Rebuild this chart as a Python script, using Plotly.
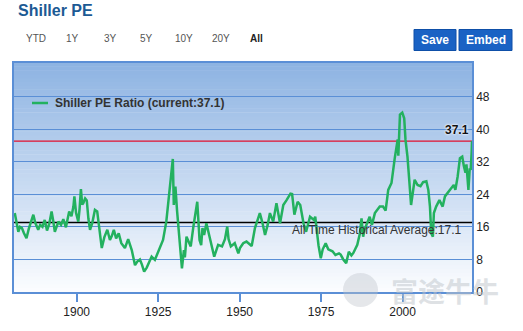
import plotly.graph_objects as go

# ---------------- data ----------------
years = [
    1881.0, 1881.5, 1882.1, 1882.6, 1883.2, 1883.8, 1884.6, 1885.3, 1886.0, 1886.7,
    1887.3, 1888.2, 1888.8, 1889.5, 1890.2, 1890.9, 1891.6, 1892.3, 1892.8, 1893.3,
    1894.4, 1895.2, 1895.9, 1896.7, 1897.7, 1898.4, 1899.0, 1899.3, 1899.8, 1900.5,
    1900.9, 1901.3, 1901.7, 1902.0, 1902.6, 1903.1, 1903.6, 1904.1, 1904.8, 1905.6,
    1906.3, 1906.8, 1907.7, 1908.5, 1909.4, 1910.2, 1910.8, 1911.4, 1912.1, 1912.9,
    1913.7, 1914.8, 1915.8, 1916.9, 1917.9, 1918.6, 1919.4, 1920.0, 1920.7, 1921.5,
    1922.3, 1923.0, 1924.0, 1924.8, 1925.5, 1926.5, 1927.5, 1928.5, 1929.0, 1929.5,
    1929.8, 1930.3, 1930.8, 1931.1, 1931.8, 1932.3, 1932.9, 1933.2, 1933.7, 1934.4,
    1935.0, 1935.8, 1936.5, 1937.0, 1937.7, 1938.2, 1938.6, 1939.1, 1939.8, 1940.8,
    1941.5, 1942.2, 1943.4, 1944.6, 1945.5, 1946.2, 1946.6, 1947.3, 1948.5, 1949.6,
    1950.1, 1951.1, 1952.1, 1953.7, 1954.7, 1955.5, 1956.2, 1957.0, 1957.8, 1958.6,
    1959.3, 1960.3, 1961.3, 1962.4, 1963.4, 1964.4, 1965.6, 1966.1, 1966.8, 1967.8,
    1968.6, 1969.6, 1970.4, 1971.6, 1972.8, 1973.2, 1974.2, 1974.9, 1975.5, 1976.4,
    1977.2, 1978.5, 1979.4, 1980.5, 1981.0, 1981.8, 1982.7, 1983.5, 1984.3, 1984.9,
    1986.1, 1986.9, 1987.4, 1987.9, 1988.3, 1989.9, 1990.6, 1991.5, 1993.0, 1994.0,
    1994.8, 1995.6, 1996.6, 1997.6, 1998.1, 1998.5, 1998.7, 1999.0, 1999.2, 1999.9,
    2000.5, 2000.9, 2001.5, 2002.0, 2002.6, 2003.7, 2004.6, 2005.5, 2006.3, 2007.3,
    2007.9, 2008.4, 2008.8, 2009.3, 2009.6, 2010.3, 2011.3, 2012.3, 2013.0, 2014.5,
    2015.7, 2016.2, 2016.9, 2017.6, 2018.3, 2018.8, 2019.3, 2019.6, 2020.2, 2020.6,
    2020.9, 2021.2, 2021.3,
]
pe = [
    19.4, 17.0, 14.8, 16.0, 15.7, 14.5, 13.2, 15.5, 17.5, 19.0,
    17.0, 15.3, 16.5, 16.0, 17.7, 15.1, 16.8, 19.8, 17.5, 14.8,
    17.3, 16.5, 17.9, 15.9, 19.8, 18.6, 21.0, 23.5, 19.5, 17.3,
    20.5, 25.3, 21.5, 21.8, 23.0, 22.5, 18.0, 15.3, 17.0, 20.2,
    19.8, 17.0, 10.8, 13.5, 15.3, 12.8, 13.8, 15.3, 13.2, 14.4,
    12.0, 10.8, 13.0, 10.3, 6.6, 7.5, 8.0, 6.8, 5.0, 6.0,
    7.5, 8.7, 7.9, 9.5, 11.2, 12.8, 17.3, 25.9, 28.4, 32.7,
    21.4, 25.9, 20.0, 16.9, 9.5, 5.8, 10.3, 8.5, 13.6, 12.4,
    11.2, 16.0, 20.2, 22.2, 12.8, 11.5, 15.7, 14.0, 16.9, 13.6,
    11.5, 8.7, 11.6, 11.2, 13.0, 16.1, 13.0, 11.2, 12.0, 9.5,
    10.8, 12.0, 12.4, 11.3, 15.7, 17.5, 19.4, 17.0, 14.0, 16.5,
    19.4, 17.3, 21.8, 16.9, 21.4, 22.6, 24.2, 24.1, 19.0, 22.2,
    21.4, 16.9, 14.8, 18.5, 17.7, 18.5, 11.5, 8.3, 10.5, 12.0,
    10.5, 10.0, 9.1, 9.5, 9.2, 8.0, 7.1, 9.9, 9.0, 9.6,
    11.6, 14.4, 18.1, 13.6, 15.3, 18.5, 16.5, 19.4, 21.0, 21.0,
    20.0, 25.1, 26.8, 32.9, 35.8, 37.5, 33.5, 40.0, 43.6, 44.1,
    42.7, 37.4, 33.3, 28.0, 21.4, 27.6, 26.3, 26.0, 27.0, 27.2,
    25.1, 21.0, 14.4, 13.6, 19.4, 21.0, 22.6, 21.0, 23.5, 25.1,
    26.3, 25.1, 28.4, 32.9, 33.3, 31.0, 29.3, 31.4, 25.1, 30.4,
    30.0, 34.5, 37.1,
]
current_pe = 37.1
average_pe = 17.1
x_tick_years = [1900, 1925, 1950, 1975, 2000]
y_tick_vals = [0, 8, 16, 24, 32, 40, 48]
range_buttons = ["YTD", "1Y", "3Y", "5Y", "10Y", "20Y", "All"]

# ---------------- layout helpers (pixel -> paper) ----------------
W, H = 523, 331
PL, PR, PT, PB = 14, 472, 63, 292


def px(x):
    return (x - PL) / (PR - PL)


def py(y):
    return (PB - y) / (PB - PT)


GREEN = "#23b15f"
GRID = "#5b8fd6"
FONT = "Liberation Sans, Arial, sans-serif"

fig = go.Figure()
fig.add_trace(go.Scatter(
    x=years, y=pe, mode="lines",
    line=dict(color=GREEN, width=2.5),
    name="Shiller PE Ratio", showlegend=False,
    hovertemplate="%{x:.1f}: %{y:.1f}<extra></extra>",
))

shapes = []
# gradient background of the plot area
n = 60
top = (141, 179, 226)
bot = (252, 253, 255)
for i in range(n):
    t0 = i / n
    t1 = (i + 1) / n
    f = (t0 + t1) / 2  # 0 bottom -> 1 top
    c = tuple(round(bot[k] + (top[k] - bot[k]) * f) for k in range(3))
    shapes.append(dict(type="rect", xref="paper", yref="paper",
                       x0=0, x1=1, y0=t0, y1=t1 + 0.002,
                       fillcolor="rgb(%d,%d,%d)" % c, line=dict(width=0),
                       layer="below"))
# current value line and historical average line
shapes.append(dict(type="line", xref="paper", yref="y", x0=0, x1=1,
                   y0=current_pe, y1=current_pe,
                   line=dict(color="#e0102f", width=1.2), layer="between"))
shapes.append(dict(type="line", xref="paper", yref="y", x0=0, x1=1,
                   y0=average_pe, y1=average_pe,
                   line=dict(color="#000000", width=1.5), layer="between"))
# legend sample line
shapes.append(dict(type="line", xref="paper", yref="paper",
                   x0=px(32), x1=px(48), y0=py(103), y1=py(103),
                   line=dict(color=GREEN, width=2.5)))
# save / embed buttons
for x0, x1 in [(414, 456), (459, 512)]:
    shapes.append(dict(type="rect", xref="paper", yref="paper",
                       x0=px(x0), x1=px(x1), y0=py(50.5), y1=py(29.5),
                       fillcolor="#1a62c4", line=dict(color="#0e4fa8", width=1)))

annotations = []
annotations.append(dict(text="<b>Shiller PE</b>", x=px(16), y=py(11),
                        xref="paper", yref="paper", xanchor="left", yanchor="middle",
                        showarrow=False, font=dict(family=FONT, size=16, color="#1c5a94")))
btn_x = [35.7, 72.7, 110, 146.7, 184.3, 221, 256.7]
for lab, bx in zip(range_buttons, btn_x):
    bold = lab == "All"
    annotations.append(dict(text=("<b>%s</b>" % lab) if bold else lab, x=px(bx), y=py(38.5),
                            xref="paper", yref="paper", xanchor="center", yanchor="middle",
                            showarrow=False,
                            font=dict(family=FONT, size=10, color="#222" if bold else "#555")))
for lab, cx in [("Save", 435), ("Embed", 485.5)]:
    annotations.append(dict(text="<b>%s</b>" % lab, x=px(cx), y=py(40),
                            xref="paper", yref="paper", xanchor="center", yanchor="middle",
                            showarrow=False, font=dict(family=FONT, size=12, color="white")))
annotations.append(dict(text="<b>Shiller PE Ratio (current:%s)</b>" % current_pe,
                        x=px(53), y=py(103), xref="paper", yref="paper",
                        xanchor="left", yanchor="middle", showarrow=False,
                        font=dict(family=FONT, size=12, color="#333")))
annotations.append(dict(text="All Time Historical Average:%s" % average_pe,
                        x=px(464), y=average_pe, xref="paper", yref="y",
                        xanchor="right", yanchor="top", yshift=1, showarrow=False,
                        font=dict(family=FONT, size=12, color="#333")))
annotations.append(dict(text="<b>%s</b>" % current_pe,
                        x=px(471), y=current_pe, xref="paper", yref="y",
                        xanchor="right", yanchor="bottom", yshift=2, showarrow=False,
                        font=dict(family=FONT, size=12, color="#111",
                                  shadow="0 0 2px white, 0 0 3px white")))
# watermark
annotations.append(dict(text="<b>富途牛牛</b>", x=px(445), y=py(290), xref="paper", yref="paper",
                        xanchor="center", yanchor="middle", showarrow=False,
                        font=dict(family="Noto Sans CJK SC", size=27, color="rgba(190,196,202,0.5)")))
shapes.append(dict(type="circle", xref="paper", yref="paper",
                   x0=px(343), x1=px(378), y0=py(307), y1=py(273),
                   fillcolor="rgba(190,196,202,0.4)", line=dict(width=0)))

fig.update_layout(
    width=W, height=H,
    margin=dict(l=PL, r=W - PR, t=PT, b=H - PB),
    paper_bgcolor="white", plot_bgcolor="white",
    shapes=shapes, annotations=annotations,
    showlegend=False,
    font=dict(family=FONT, size=12, color="#222"),
    xaxis=dict(range=[1880.77, 2021.3], tickvals=x_tick_years,
               ticktext=[str(v) for v in x_tick_years],
               showgrid=False, zeroline=False,
               showline=True, linecolor=GRID, linewidth=1.5, mirror=True,
               ticks="outside", ticklen=8, tickcolor=GRID, tickwidth=1.5,
               tickfont=dict(family=FONT, size=12, color="#222")),
    yaxis=dict(range=[0, 56.3], tickvals=y_tick_vals, side="right",
               showgrid=True, gridcolor=GRID, gridwidth=1, zeroline=False,
               showline=True, linecolor=GRID, linewidth=1.5, mirror=True,
               ticks="", tickfont=dict(family=FONT, size=12, color="#222")),
)

fig.write_html("out.html")
